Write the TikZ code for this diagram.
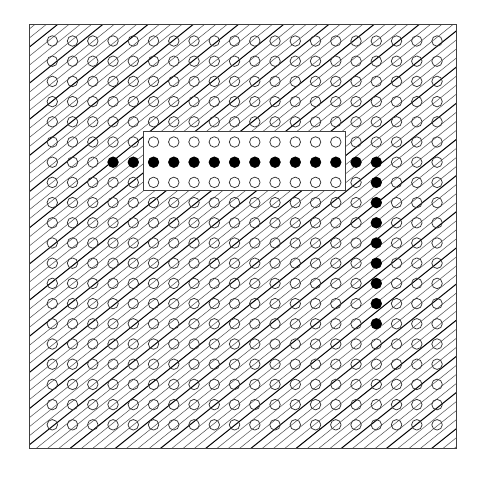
\documentclass[tikz,border=0pt]{standalone}
\begin{document}
\begin{tikzpicture}[x=1pt,y=-1pt,
  hatch/.style={draw=black!70,line width=0.5pt},
  hatchdark/.style={draw=black,line width=1.0pt},
  frame/.style={draw=black!75,line width=1pt},
  box/.style={draw=black!75,fill=white,line width=1pt},
  hole/.style={circle,draw=black!80,line width=0.75pt,minimum size=10.5pt,inner sep=0pt},
  dot/.style={circle,fill=black,minimum size=11pt,inner sep=0pt}]
\useasboundingbox (0,0) rectangle (499,480);
% hatched square
\begin{scope}
  \clip (29.7,24.7) rectangle (456.7,448.7);
  \foreach \k in {-3,...,88} {
    \pgfmathsetmacro\xo{34.7+11.3*\k}
    \pgfmathtruncatemacro\m{mod(\k+88,8)}
    \ifnum\m=2
      \draw[hatchdark] (\xo+100,-55.3) -- (\xo-700,584.7);
    \else\ifnum\m=6
      \draw[hatchdark] (\xo+100,-55.3) -- (\xo-700,584.7);
    \else
      \draw[hatch] (\xo+100,-55.3) -- (\xo-700,584.7);
    \fi\fi
  }
\end{scope}
\node[frame,minimum width=427pt,minimum height=424pt,inner sep=0pt] (sq) at (243.2,236.7) {};
% white box
\node[box,minimum width=202.4pt,minimum height=58.3pt,inner sep=0pt] (bx) at (244.5,160.85) {};
% grid of holes
\foreach \i in {0,...,19} {
  \foreach \j in {0,...,19} {
    \node[hole] (c-\i-\j) at (52.3+20.25*\i,41+20.2*\j) {};
  }
}
% filled dots: horizontal row 6, columns 3..16
\foreach \i in {3,...,16} {
  \node[dot] (h-\i) at (c-\i-6) {};
}
% vertical column 16, rows 7..14
\foreach \j in {7,...,14} {
  \node[dot] (v-\j) at (c-16-\j) {};
}
\end{tikzpicture}
\end{document}
